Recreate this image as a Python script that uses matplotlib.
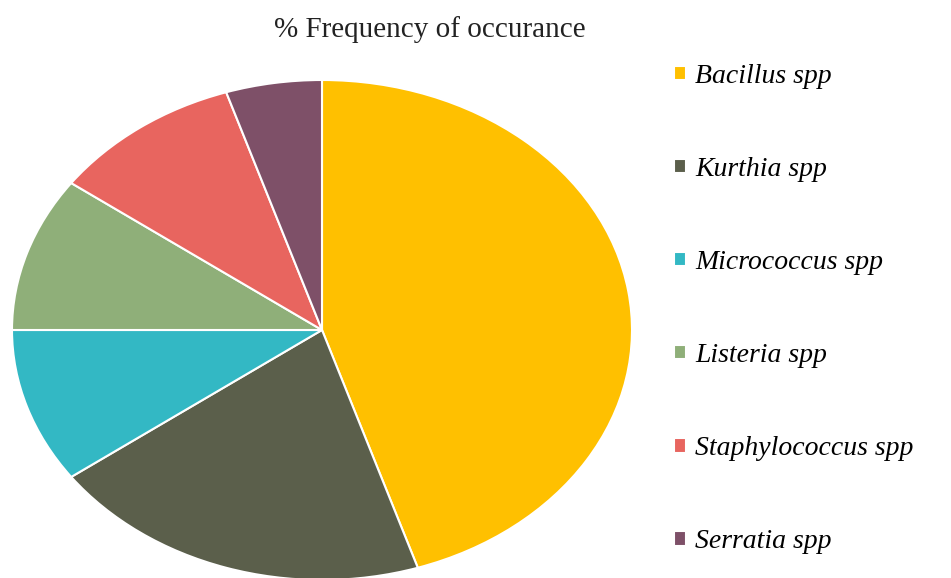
import matplotlib.pyplot as plt

labels = ['Bacillus spp', 'Kurthia spp', 'Micrococcus spp', 'Listeria spp',
          'Staphylococcus spp', 'Serratia spp']
freq = [45, 20, 10, 10, 10, 5]
colors = ['#FFC000', '#5B5F4B', '#33B8C4', '#8FAF79', '#E8655F', '#7E5068']

fig = plt.figure(figsize=(9.51, 5.78), dpi=100)
# pie is drawn stretched (wider than tall), like the original
ax = fig.add_axes([12 / 951, (578 - 580) / 578, 620 / 951, 500 / 578])
wedges, _ = ax.pie(freq, colors=colors, startangle=90, counterclock=False,
                   wedgeprops=dict(edgecolor='white', linewidth=1.5))
ax.set_aspect('auto')
ax.set_xlim(-1, 1)
ax.set_ylim(-1, 1)

fig.text(430 / 951, 1 - 30 / 578, '% Frequency of occurance', ha='center', va='center',
         fontsize=21, family='Liberation Serif', color='#222222')

fig.legend(wedges, labels, loc='upper left', bbox_to_anchor=(649 / 951, 1 - 39 / 578),
           frameon=False, labelspacing=2.45, handlelength=0.42, handleheight=0.42,
           handletextpad=0.35,
           prop=dict(family='Liberation Serif', style='italic', size=20))

fig.savefig('out.png', dpi=100)
